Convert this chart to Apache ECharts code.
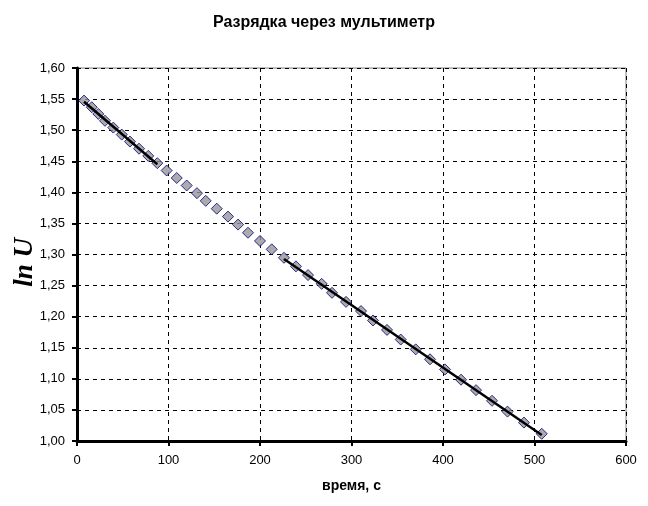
<!DOCTYPE html>
<html>
<head>
<meta charset="utf-8">
<script src="https://cdn.jsdelivr.net/npm/echarts@6/dist/echarts.min.js"></script>
<style>
html,body{margin:0;padding:0;background:#fff;}
#c{width:648px;height:506px;}
</style>
</head>
<body>
<div id="c"></div>
<script>
// time, s
var timeS = [7.7, 16.1, 23.3, 30.6, 39.7, 48.9, 57.9, 67.8, 77.9, 87.8,
  98.0, 109.0, 119.9, 131.1, 140.7, 152.7, 165.0, 176.0, 186.9, 200.0,
  212.8, 226.2, 239.3, 252.5, 267.4, 278.7, 294.0, 310.4, 323.5, 338.8,
  353.8, 370.2, 385.8, 402.2, 419.7, 436.1, 453.6, 470.5, 488.5, 507.9];
// ln U
var lnU = [1.5476, 1.5369, 1.5261, 1.5151, 1.5041, 1.4929, 1.4816, 1.4702, 1.4586, 1.4469,
  1.4351, 1.4231, 1.4110, 1.3987, 1.3863, 1.3737, 1.3610, 1.3481, 1.3350, 1.3218,
  1.3083, 1.2947, 1.2809, 1.2669, 1.2528, 1.2384, 1.2238, 1.2090, 1.1939, 1.1787,
  1.1632, 1.1474, 1.1314, 1.1151, 1.0986, 1.0818, 1.0647, 1.0473, 1.0296, 1.0116];
// index ranges for the two linear trend lines
var trend1Range = [0, 9];
var trend2Range = [21, 39];
var xTicks = [0, 600, 100];
var yTicks = [1.0, 1.6, 0.05];
var titleText = 'Разрядка через мультиметр';
var xName = 'время, с';
var yName = 'ln U';

function fit(r) {
  var n = 0, sx = 0, sy = 0, sxx = 0, sxy = 0;
  for (var i = r[0]; i <= r[1]; i++) {
    n++; sx += timeS[i]; sy += lnU[i]; sxx += timeS[i]*timeS[i]; sxy += timeS[i]*lnU[i];
  }
  var b = (n*sxy - sx*sy) / (n*sxx - sx*sx);
  var a = (sy - b*sx) / n;
  var x0 = timeS[r[0]], x1 = timeS[r[1]];
  return [[x0, a + b*x0], [x1, a + b*x1]];
}

var pts = timeS.map(function(t, i){ return [t, lnU[i]]; });

var chart = echarts.init(document.getElementById('c'), null, {renderer: 'canvas'});
chart.setOption({
  backgroundColor: '#ffffff',
  animation: false,
  title: {
    text: titleText, left: 'center', top: 10,
    textStyle: {fontFamily: 'Liberation Sans, Arial, sans-serif', fontSize: 16, fontWeight: 'bold', color: '#000'}
  },
  graphic: [{
    type: 'text', left: 12, top: 238,
    style: {text: yName, fill: '#000', font: 'italic bold 27px "Liberation Serif", "Times New Roman", serif'},
    rotation: Math.PI / 2, originX: 0, originY: 0
  }],
  grid: {left: 77, right: 22, top: 68, bottom: 65, show: true, borderColor: '#808080', borderWidth: 1, backgroundColor: '#fff'},
  xAxis: {
    type: 'value', min: xTicks[0], max: xTicks[1], interval: xTicks[2],
    name: xName, nameLocation: 'middle', nameGap: 38,
    nameTextStyle: {fontFamily: 'Liberation Sans, Arial, sans-serif', fontSize: 14, fontWeight: 'bold', color: '#000'},
    axisLine: {onZero: false, lineStyle: {color: '#000', width: 3}},
    axisTick: {inside: false, length: 5, lineStyle: {color: '#000', width: 2}},
    axisLabel: {margin: 13, fontFamily: 'Liberation Sans, Arial, sans-serif', fontSize: 13, color: '#000'},
    splitLine: {show: true, lineStyle: {color: '#000', width: 1, type: [4, 4]}}
  },
  yAxis: {
    type: 'value', min: yTicks[0], max: yTicks[1], interval: yTicks[2],
    axisLine: {onZero: false, lineStyle: {color: '#000', width: 3}},
    axisTick: {inside: false, length: 5, lineStyle: {color: '#000', width: 2}},
    axisLabel: {margin: 12, fontFamily: 'Liberation Sans, Arial, sans-serif', fontSize: 13, color: '#000',
      formatter: function(v){ return v.toFixed(2).replace('.', ','); }},
    splitLine: {show: true, lineStyle: {color: '#000', width: 1, type: [4, 4]}}
  },
  series: [
    {
      type: 'scatter', data: pts, symbol: 'diamond', symbolSize: 11, z: 2,
      itemStyle: {color: '#969696', borderColor: '#000080', borderWidth: 1}
    },
    {
      type: 'line', data: fit(trend1Range), showSymbol: false, symbol: 'none', z: 3,
      lineStyle: {color: '#000', width: 2.5}
    },
    {
      type: 'line', data: fit(trend2Range), showSymbol: false, symbol: 'none', z: 3,
      lineStyle: {color: '#000', width: 2.5}
    }
  ]
});
</script>
</body>
</html>
